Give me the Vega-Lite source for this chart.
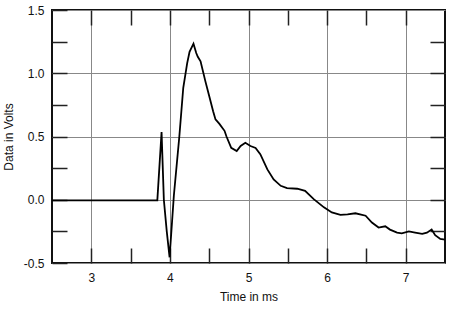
{
  "$schema": "https://vega.github.io/schema/vega-lite/v6.json",
  "autosize": "none",
  "width": 393,
  "height": 253,
  "padding": {"left": 52, "top": 10, "right": 5, "bottom": 47},
  "background": "white",
  "config": {
    "view": {"stroke": "#111", "strokeWidth": 2},
    "font": "Liberation Sans",
    "axis": {"labelFont": "Liberation Sans", "titleFont": "Liberation Sans", "labelFontSize": 12, "titleFontSize": 12, "titleFontWeight": "normal", "labelColor": "#111", "titleColor": "#111"}
  },
  "data": {"values": [
    {"t": 2.5, "v": -0.005}, {"t": 3.0, "v": -0.005}, {"t": 3.5, "v": -0.005}, {"t": 3.84, "v": -0.005},
    {"t": 3.894, "v": 0.535}, {"t": 3.923, "v": 0.0}, {"t": 3.96, "v": -0.25}, {"t": 3.996, "v": -0.455},
    {"t": 4.05, "v": 0.03}, {"t": 4.12, "v": 0.5}, {"t": 4.17, "v": 0.885}, {"t": 4.22, "v": 1.08},
    {"t": 4.25, "v": 1.17}, {"t": 4.3, "v": 1.234}, {"t": 4.335, "v": 1.16}, {"t": 4.355, "v": 1.13},
    {"t": 4.39, "v": 1.095}, {"t": 4.45, "v": 0.94}, {"t": 4.5, "v": 0.82}, {"t": 4.55, "v": 0.7},
    {"t": 4.58, "v": 0.635}, {"t": 4.63, "v": 0.6}, {"t": 4.695, "v": 0.545}, {"t": 4.72, "v": 0.5},
    {"t": 4.78, "v": 0.41}, {"t": 4.85, "v": 0.385}, {"t": 4.9, "v": 0.425}, {"t": 4.96, "v": 0.45},
    {"t": 5.025, "v": 0.425}, {"t": 5.09, "v": 0.41}, {"t": 5.15, "v": 0.36}, {"t": 5.24, "v": 0.24},
    {"t": 5.32, "v": 0.16}, {"t": 5.41, "v": 0.11}, {"t": 5.49, "v": 0.092}, {"t": 5.62, "v": 0.087},
    {"t": 5.72, "v": 0.071}, {"t": 5.83, "v": 0.005}, {"t": 5.96, "v": -0.06}, {"t": 6.06, "v": -0.1},
    {"t": 6.17, "v": -0.12}, {"t": 6.26, "v": -0.115}, {"t": 6.36, "v": -0.107}, {"t": 6.49, "v": -0.126},
    {"t": 6.57, "v": -0.18}, {"t": 6.655, "v": -0.22}, {"t": 6.74, "v": -0.21}, {"t": 6.8, "v": -0.236},
    {"t": 6.89, "v": -0.26}, {"t": 6.95, "v": -0.265}, {"t": 7.04, "v": -0.25}, {"t": 7.12, "v": -0.26},
    {"t": 7.21, "v": -0.27}, {"t": 7.27, "v": -0.26}, {"t": 7.33, "v": -0.236}, {"t": 7.375, "v": -0.28},
    {"t": 7.44, "v": -0.31}, {"t": 7.5, "v": -0.315}
  ]},
  "layer": [
    {
      "mark": {"type": "line", "strokeOpacity": 0, "clip": true},
      "encoding": {
        "x": {"field": "t", "type": "quantitative", "scale": {"domain": [2.5, 7.5], "nice": false, "zero": false},
          "axis": {"orient": "top", "title": null, "labels": false, "domain": false, "grid": false,
            "values": [3, 3.5, 4, 4.5, 5, 5.5, 6, 6.5, 7], "tickSize": -15, "tickColor": "#222", "tickWidth": 1.5}},
        "y": {"field": "v", "type": "quantitative", "scale": {"domain": [-0.5, 1.5], "nice": false, "zero": false},
          "axis": {"orient": "right", "title": null, "labels": false, "domain": false, "grid": false,
            "values": [-0.25, 0, 0.25, 0.5, 0.75, 1, 1.25], "tickSize": -15, "tickColor": "#222", "tickWidth": 1.5}}
      }
    },
    {
      "mark": {"type": "line", "color": "#000", "strokeWidth": 1.8, "clip": true},
      "encoding": {
        "x": {"field": "t", "type": "quantitative", "scale": {"domain": [2.5, 7.5], "nice": false, "zero": false},
          "axis": {"orient": "bottom", "title": "Time in ms", "titlePadding": 8, "domain": false,
            "values": [3, 3.5, 4, 4.5, 5, 5.5, 6, 6.5, 7],
            "format": ".0f",
            "labelExpr": "datum.value % 1 === 0 ? datum.label : ''",
            "labelPadding": 24,
            "grid": true, "gridColor": "#888", "gridWidth": 1,
            "gridOpacity": {"condition": {"test": "datum.value % 1 === 0", "value": 1}, "value": 0},
            "tickSize": -15, "tickColor": "#222", "tickWidth": 1.5}},
        "y": {"field": "v", "type": "quantitative", "scale": {"domain": [-0.5, 1.5], "nice": false, "zero": false},
          "axis": {"orient": "left", "title": "Data in Volts", "titlePadding": 8, "domain": false,
            "values": [-0.5, -0.25, 0, 0.25, 0.5, 0.75, 1, 1.25, 1.5],
            "format": ".1f",
            "labelExpr": "datum.value % 0.5 === 0 ? replace(datum.label, '\u2212', '-') : ''",
            "labelPadding": 23,
            "grid": true, "gridColor": "#888", "gridWidth": 1,
            "gridOpacity": {"condition": {"test": "datum.value % 0.5 === 0", "value": 1}, "value": 0},
            "tickSize": -15, "tickColor": "#222", "tickWidth": 1.5}}
      }
    }
  ],
  "resolve": {"axis": {"x": "independent", "y": "independent"}}
}
